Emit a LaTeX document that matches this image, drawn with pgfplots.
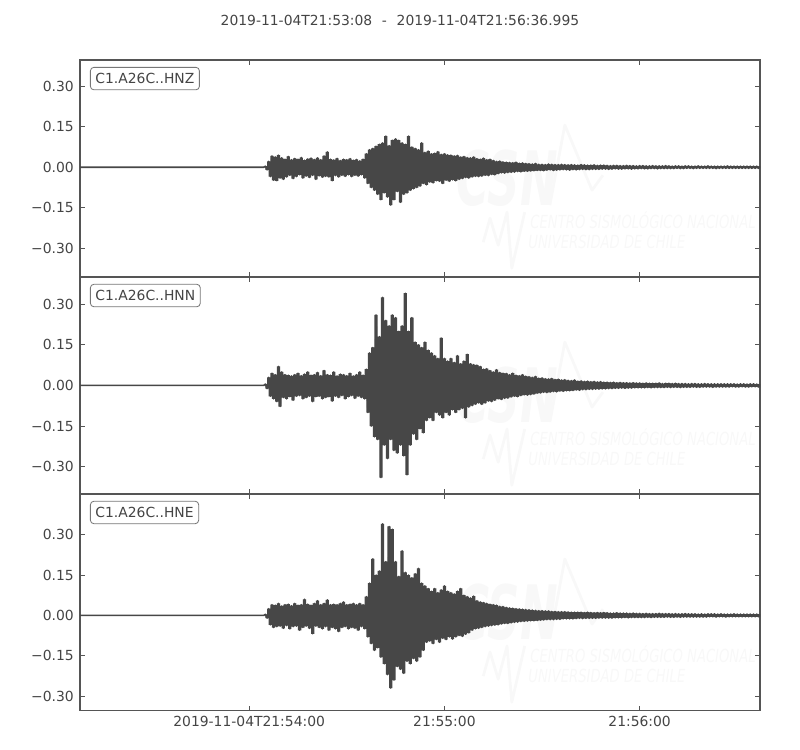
\documentclass[border=0pt]{standalone}
\usepackage{fontspec}
\setmainfont{DejaVu Sans}
\usepackage{pgfplots}
\usepackage{pgfplotstable}
\pgfplotsset{compat=1.18}

\definecolor{cTrace}{HTML}{474747}
\definecolor{cText}{HTML}{444444}
\definecolor{cFrame}{HTML}{555555}
\definecolor{cBox}{HTML}{777777}
\definecolor{cWm}{HTML}{F8F8F8}

\pgfplotsset{
  seis/.style={
    scale only axis, width=489.6pt, height=156.2pt, anchor=north west,
    xmin=0, xmax=208.995,
    xtick={52,112,172}, xticklabels={},
    ytick={-0.3,-0.15,0,0.15,0.3},
    yticklabels={−0.30,−0.15,0.00,0.15,0.30},
    scaled ticks=false,
    tick align=inside, major tick length=3.8pt,
    tick style={cFrame, line width=0.6pt},
    axis line style={cFrame, line width=0.9pt},
    tick label style={font=\fontsize{10}{12}\selectfont, text=cText},
    yticklabel style={xshift=-1pt},
  },
  trace/.style={cTrace, line width=1.1pt, line join=round},
}
\tikzset{
  lbl/.style={anchor=north west, draw=cBox, fill=white, rounded corners=2.5pt,
    inner xsep=3.6pt, inner ysep=4.3pt, line width=0.6pt, text=cText,
    font=\fontsize{10}{12}\selectfont},
  wmbig/.style={text=cWm, inner sep=0pt, font=\fontsize{54}{54}\selectfont\bfseries\itshape},
  wmsmall/.style={text=cWm, anchor=base west, inner sep=0pt, font=\fontsize{13}{13}\selectfont\itshape},
  wmline/.style={cWm, line width=2pt, line join=round},
}
% faint CSN watermark, same place in every panel
\newcommand{\watermark}{%
  \node[wmbig] at (rel axis cs:0.628,0.455) {\scalebox{0.6}[1]{CSN}};
  \draw[wmline] (rel axis cs:0.691,0.331) -- (rel axis cs:0.713,0.700)
    -- (rel axis cs:0.753,0.400) -- (rel axis cs:0.769,0.469);
  \draw[wmline] (rel axis cs:0.593,0.160) -- (rel axis cs:0.603,0.271)
    -- (rel axis cs:0.615,0.146) -- (rel axis cs:0.628,0.299)
    -- (rel axis cs:0.635,0.040) -- (rel axis cs:0.654,0.299);
  \node[wmsmall] at (rel axis cs:0.662,0.224) {\scalebox{0.73}[1]{CENTRO SISMOLÓGICO NACIONAL}};
  \node[wmsmall] at (rel axis cs:0.659,0.132) {\scalebox{0.73}[1]{UNIVERSIDAD DE CHILE}};
}

% traces sampled every 0.5 s, t in s after 21:53:08
\pgfplotstableread[row sep=\\]{
t y\\
0 0\\ 56.5 0\\
57 0.004\\ 57.5 -0.01\\ 58 0.022\\ 58.5 -0.035\\ 59 0.042\\ 59.5 -0.048\\ 60 0.038\\ 60.5 -0.05\\ 61 0.045\\
61.5 -0.04\\ 62 0.035\\ 62.5 -0.045\\ 63 0.03\\ 63.5 -0.036\\ 64 0.04\\ 64.5 -0.03\\ 65 0.028\\ 65.5 -0.042\\ 66 0.033\\
66.5 -0.035\\ 67 0.03\\ 67.5 -0.028\\ 68 0.036\\ 68.5 -0.04\\ 69 0.026\\ 69.5 -0.033\\ 70 0.031\\ 70.5 -0.038\\ 71 0.034\\
71.5 -0.03\\ 72 0.029\\ 72.5 -0.045\\ 73 0.035\\ 73.5 -0.032\\ 74 0.028\\ 74.5 -0.037\\ 75 0.042\\ 75.5 -0.034\\ 76 0.057\\
76.5 -0.036\\ 77 0.03\\ 77.5 -0.05\\ 78 0.027\\ 78.5 -0.031\\ 79 0.033\\ 79.5 -0.036\\ 80 0.025\\ 80.5 -0.03\\ 81 0.03\\
81.5 -0.034\\ 82 0.028\\ 82.5 -0.028\\ 83 0.032\\ 83.5 -0.035\\ 84 0.026\\ 84.5 -0.03\\ 85 0.029\\ 85.5 -0.033\\ 86 0.024\\
86.5 -0.028\\ 87 0.03\\ 87.5 -0.04\\ 88 0.05\\ 88.5 -0.06\\ 89 0.065\\ 89.5 -0.075\\ 90 0.07\\ 90.5 -0.085\\ 91 0.078\\
91.5 -0.1\\ 92 0.085\\ 92.5 -0.12\\ 93 0.09\\ 93.5 -0.095\\ 94 0.115\\ 94.5 -0.11\\ 95 0.08\\ 95.5 -0.14\\ 96 0.1\\
96.5 -0.12\\ 97 0.105\\ 97.5 -0.09\\ 98 0.1\\ 98.5 -0.13\\ 99 0.09\\ 99.5 -0.1\\ 100 0.085\\ 100.5 -0.095\\ 101 0.115\\
101.5 -0.085\\ 102 0.075\\ 102.5 -0.08\\ 103 0.07\\ 103.5 -0.075\\ 104 0.065\\ 104.5 -0.07\\ 105 0.09\\ 105.5 -0.06\\ 106 0.055\\
106.5 -0.065\\ 107 0.06\\ 107.5 -0.055\\ 108 0.05\\ 108.5 -0.058\\ 109 0.052\\ 109.5 -0.05\\ 110 0.058\\ 110.5 -0.052\\ 111 0.048\\
111.5 -0.06\\ 112 0.05\\ 112.5 -0.048\\ 113 0.046\\ 113.5 -0.052\\ 114 0.045\\ 114.5 -0.047\\ 115 0.042\\ 115.5 -0.05\\ 116 0.044\\
116.5 -0.045\\ 117 0.038\\ 117.5 -0.042\\ 118 0.04\\ 118.5 -0.038\\ 119 0.036\\ 119.5 -0.04\\ 120 0.035\\ 120.5 -0.036\\ 121 0.038\\
121.5 -0.034\\ 122 0.032\\ 122.5 -0.035\\ 123 0.03\\ 123.5 -0.033\\ 124 0.034\\ 124.5 -0.03\\ 125 0.028\\ 125.5 -0.031\\ 126 0.03\\
126.5 -0.027\\ 127 0.025\\ 127.5 -0.028\\ 128 0.022\\ 128.5 -0.024\\ 129 0.023\\ 129.5 -0.021\\ 130 0.02\\ 130.5 -0.022\\ 131 0.019\\
131.5 -0.02\\ 132 0.018\\ 132.5 -0.019\\ 133 0.017\\ 133.5 -0.018\\ 134 0.019\\ 134.5 -0.016\\ 135 0.015\\ 135.5 -0.017\\ 136 0.016\\
136.5 -0.015\\ 137 0.014\\ 137.5 -0.015\\ 138 0.013\\ 138.5 -0.014\\ 139 0.012\\ 139.5 -0.013\\ 140 0.014\\ 140.5 -0.012\\ 141 0.011\\
141.5 -0.012\\ 142 0.011\\ 142.5 -0.013\\ 143 0.01\\ 143.5 -0.011\\ 144 0.012\\ 144.5 -0.01\\ 145 0.011\\ 145.5 -0.012\\ 146 0.01\\
146.5 -0.011\\ 147 0.01\\ 147.5 -0.01\\ 148 0.011\\ 148.5 -0.009\\ 149 0.01\\ 149.5 -0.01\\ 150 0.009\\ 150.5 -0.011\\ 151 0.01\\
151.5 -0.009\\ 152 0.009\\ 152.5 -0.01\\ 153 0.008\\ 153.5 -0.009\\ 154 0.01\\ 154.5 -0.008\\ 155 0.009\\ 155.5 -0.009\\ 156 0.008\\
156.5 -0.009\\ 157 0.008\\ 157.5 -0.008\\ 158 0.009\\ 158.5 -0.008\\ 159 0.007\\ 159.5 -0.008\\ 160 0.008\\ 160.5 -0.007\\ 161 0.008\\
161.5 -0.007\\ 162 0.007\\ 162.5 -0.008\\ 163 0.006\\ 163.5 -0.007\\ 164 0.007\\ 164.5 -0.006\\ 165 0.007\\ 165.5 -0.007\\ 166 0.006\\
166.5 -0.007\\ 167 0.006\\ 167.5 -0.006\\ 168 0.007\\ 168.5 -0.006\\ 169 0.006\\ 169.5 -0.007\\ 170 0.006\\ 170.5 -0.006\\ 171 0.005\\
171.5 -0.006\\ 172 0.006\\ 172.5 -0.005\\ 173 0.006\\ 173.5 -0.006\\ 174 0.005\\ 174.5 -0.006\\ 175 0.005\\ 175.5 -0.005\\ 176 0.006\\
176.5 -0.005\\ 177 0.005\\ 177.5 -0.006\\ 178 0.005\\ 178.5 -0.005\\ 179 0.005\\ 179.5 -0.005\\ 180 0.006\\ 180.5 -0.005\\ 181 0.005\\
181.5 -0.005\\ 182 0.004\\ 182.5 -0.005\\ 183 0.005\\ 183.5 -0.004\\ 184 0.005\\ 184.5 -0.005\\ 185 0.004\\ 185.5 -0.005\\ 186 0.005\\
186.5 -0.004\\ 187 0.005\\ 187.5 -0.004\\ 188 0.004\\ 188.5 -0.005\\ 189 0.004\\ 189.5 -0.004\\ 190 0.005\\ 190.5 -0.004\\ 191 0.004\\
191.5 -0.004\\ 192 0.004\\ 192.5 -0.004\\ 193 0.005\\ 193.5 -0.004\\ 194 0.004\\ 194.5 -0.004\\ 195 0.004\\ 195.5 -0.005\\ 196 0.004\\
196.5 -0.004\\ 197 0.004\\ 197.5 -0.004\\ 198 0.004\\ 198.5 -0.004\\ 199 0.005\\ 199.5 -0.004\\ 200 0.004\\ 200.5 -0.004\\ 201 0.004\\
201.5 -0.004\\ 202 0.004\\ 202.5 -0.004\\ 203 0.004\\ 203.5 -0.004\\ 204 0.004\\ 204.5 -0.004\\ 205 0.004\\ 205.5 -0.004\\ 206 0.004\\
206.5 -0.004\\ 207 0.004\\ 207.5 -0.004\\ 208 0.004\\ 208.5 -0.004\\ 208.9 0.003\\
}\hnz

\pgfplotstableread[row sep=\\]{
t y\\
0 0\\ 56.5 0\\
57 0.005\\ 57.5 -0.012\\ 58 0.03\\ 58.5 -0.04\\ 59 0.045\\ 59.5 -0.05\\ 60 0.04\\ 60.5 -0.06\\ 61 0.07\\
61.5 -0.078\\ 62 0.05\\ 62.5 -0.045\\ 63 0.04\\ 63.5 -0.05\\ 64 0.038\\ 64.5 -0.042\\ 65 0.035\\ 65.5 -0.055\\ 66 0.04\\
66.5 -0.04\\ 67 0.045\\ 67.5 -0.038\\ 68 0.036\\ 68.5 -0.05\\ 69 0.042\\ 69.5 -0.045\\ 70 0.05\\ 70.5 -0.04\\ 71 0.038\\
71.5 -0.06\\ 72 0.04\\ 72.5 -0.042\\ 73 0.048\\ 73.5 -0.04\\ 74 0.036\\ 74.5 -0.05\\ 75 0.055\\ 75.5 -0.045\\ 76 0.04\\
76.5 -0.042\\ 77 0.038\\ 77.5 -0.058\\ 78 0.05\\ 78.5 -0.04\\ 79 0.035\\ 79.5 -0.045\\ 80 0.042\\ 80.5 -0.038\\ 81 0.04\\
81.5 -0.05\\ 82 0.036\\ 82.5 -0.042\\ 83 0.045\\ 83.5 -0.038\\ 84 0.035\\ 84.5 -0.048\\ 85 0.04\\ 85.5 -0.04\\ 86 0.05\\
86.5 -0.045\\ 87 0.038\\ 87.5 -0.05\\ 88 0.06\\ 88.5 -0.1\\ 89 0.12\\ 89.5 -0.15\\ 90 0.14\\ 90.5 -0.19\\ 91 0.26\\
91.5 -0.2\\ 92 0.18\\ 92.5 -0.34\\ 93 0.325\\ 93.5 -0.22\\ 94 0.24\\ 94.5 -0.27\\ 95 0.22\\ 95.5 -0.2\\ 96 0.26\\
96.5 -0.24\\ 97 0.25\\ 97.5 -0.25\\ 98 0.2\\ 98.5 -0.22\\ 99 0.22\\ 99.5 -0.26\\ 100 0.34\\ 100.5 -0.33\\ 101 0.2\\
101.5 -0.22\\ 102 0.25\\ 102.5 -0.18\\ 103 0.16\\ 103.5 -0.2\\ 104 0.15\\ 104.5 -0.16\\ 105 0.14\\ 105.5 -0.175\\ 106 0.16\\
106.5 -0.13\\ 107 0.13\\ 107.5 -0.12\\ 108 0.12\\ 108.5 -0.13\\ 109 0.11\\ 109.5 -0.1\\ 110 0.1\\ 110.5 -0.11\\ 111 0.175\\
111.5 -0.12\\ 112 0.1\\ 112.5 -0.1\\ 113 0.09\\ 113.5 -0.11\\ 114 0.1\\ 114.5 -0.09\\ 115 0.085\\ 115.5 -0.1\\ 116 0.11\\
116.5 -0.09\\ 117 0.08\\ 117.5 -0.085\\ 118 0.09\\ 118.5 -0.12\\ 119 0.115\\ 119.5 -0.08\\ 120 0.08\\ 120.5 -0.075\\ 121 0.077\\
121.5 -0.07\\ 122 0.075\\ 122.5 -0.065\\ 123 0.07\\ 123.5 -0.07\\ 124 0.06\\ 124.5 -0.065\\ 125 0.062\\ 125.5 -0.058\\ 126 0.055\\
126.5 -0.06\\ 127 0.05\\ 127.5 -0.055\\ 128 0.058\\ 128.5 -0.05\\ 129 0.048\\ 129.5 -0.052\\ 130 0.045\\ 130.5 -0.048\\ 131 0.044\\
131.5 -0.047\\ 132 0.04\\ 132.5 -0.043\\ 133 0.045\\ 133.5 -0.04\\ 134 0.038\\ 134.5 -0.042\\ 135 0.036\\ 135.5 -0.038\\ 136 0.04\\
136.5 -0.035\\ 137 0.034\\ 137.5 -0.036\\ 138 0.032\\ 138.5 -0.034\\ 139 0.03\\ 139.5 -0.032\\ 140 0.033\\ 140.5 -0.029\\ 141 0.027\\
141.5 -0.028\\ 142 0.028\\ 142.5 -0.026\\ 143 0.025\\ 143.5 -0.027\\ 144 0.024\\ 144.5 -0.025\\ 145 0.026\\ 145.5 -0.023\\ 146 0.022\\
146.5 -0.024\\ 147 0.023\\ 147.5 -0.021\\ 148 0.02\\ 148.5 -0.022\\ 149 0.021\\ 149.5 -0.02\\ 150 0.019\\ 150.5 -0.02\\ 151 0.018\\
151.5 -0.019\\ 152 0.02\\ 152.5 -0.017\\ 153 0.016\\ 153.5 -0.018\\ 154 0.017\\ 154.5 -0.016\\ 155 0.015\\ 155.5 -0.016\\ 156 0.016\\
156.5 -0.015\\ 157 0.014\\ 157.5 -0.015\\ 158 0.015\\ 158.5 -0.014\\ 159 0.013\\ 159.5 -0.014\\ 160 0.014\\ 160.5 -0.013\\ 161 0.012\\
161.5 -0.013\\ 162 0.012\\ 162.5 -0.012\\ 163 0.011\\ 163.5 -0.012\\ 164 0.012\\ 164.5 -0.011\\ 165 0.01\\ 165.5 -0.011\\ 166 0.011\\
166.5 -0.01\\ 167 0.01\\ 167.5 -0.011\\ 168 0.01\\ 168.5 -0.01\\ 169 0.009\\ 169.5 -0.01\\ 170 0.01\\ 170.5 -0.009\\ 171 0.009\\
171.5 -0.009\\ 172 0.009\\ 172.5 -0.009\\ 173 0.008\\ 173.5 -0.009\\ 174 0.009\\ 174.5 -0.008\\ 175 0.008\\ 175.5 -0.009\\ 176 0.008\\
176.5 -0.008\\ 177 0.008\\ 177.5 -0.008\\ 178 0.009\\ 178.5 -0.008\\ 179 0.007\\ 179.5 -0.008\\ 180 0.008\\ 180.5 -0.007\\ 181 0.008\\
181.5 -0.008\\ 182 0.007\\ 182.5 -0.007\\ 183 0.008\\ 183.5 -0.007\\ 184 0.007\\ 184.5 -0.008\\ 185 0.007\\ 185.5 -0.007\\ 186 0.007\\
186.5 -0.007\\ 187 0.006\\ 187.5 -0.007\\ 188 0.007\\ 188.5 -0.006\\ 189 0.007\\ 189.5 -0.007\\ 190 0.006\\ 190.5 -0.007\\ 191 0.006\\
191.5 -0.006\\ 192 0.007\\ 192.5 -0.006\\ 193 0.006\\ 193.5 -0.006\\ 194 0.006\\ 194.5 -0.007\\ 195 0.006\\ 195.5 -0.006\\ 196 0.006\\
196.5 -0.006\\ 197 0.006\\ 197.5 -0.006\\ 198 0.006\\ 198.5 -0.006\\ 199 0.006\\ 199.5 -0.006\\ 200 0.006\\ 200.5 -0.005\\ 201 0.006\\
201.5 -0.006\\ 202 0.005\\ 202.5 -0.006\\ 203 0.006\\ 203.5 -0.005\\ 204 0.006\\ 204.5 -0.006\\ 205 0.005\\ 205.5 -0.006\\ 206 0.006\\
206.5 -0.005\\ 207 0.006\\ 207.5 -0.005\\ 208 0.005\\ 208.5 -0.006\\ 208.9 0.005\\
}\hnn

\pgfplotstableread[row sep=\\]{
t y\\
0 0\\ 56.5 0\\
57 0.004\\ 57.5 -0.01\\ 58 0.025\\ 58.5 -0.035\\ 59 0.04\\ 59.5 -0.045\\ 60 0.038\\ 60.5 -0.042\\ 61 0.045\\
61.5 -0.04\\ 62 0.035\\ 62.5 -0.048\\ 63 0.04\\ 63.5 -0.038\\ 64 0.042\\ 64.5 -0.05\\ 65 0.036\\ 65.5 -0.042\\ 66 0.045\\
66.5 -0.04\\ 67 0.038\\ 67.5 -0.055\\ 68 0.04\\ 68.5 -0.045\\ 69 0.06\\ 69.5 -0.04\\ 70 0.042\\ 70.5 -0.048\\ 71 0.038\\
71.5 -0.068\\ 72 0.045\\ 72.5 -0.04\\ 73 0.055\\ 73.5 -0.045\\ 74 0.04\\ 74.5 -0.05\\ 75 0.045\\ 75.5 -0.042\\ 76 0.058\\
76.5 -0.055\\ 77 0.04\\ 77.5 -0.045\\ 78 0.042\\ 78.5 -0.05\\ 79 0.04\\ 79.5 -0.06\\ 80 0.045\\ 80.5 -0.045\\ 81 0.05\\
81.5 -0.042\\ 82 0.04\\ 82.5 -0.05\\ 83 0.042\\ 83.5 -0.045\\ 84 0.045\\ 84.5 -0.048\\ 85 0.04\\ 85.5 -0.055\\ 86 0.045\\
86.5 -0.042\\ 87 0.04\\ 87.5 -0.05\\ 88 0.07\\ 88.5 -0.08\\ 89 0.12\\ 89.5 -0.105\\ 90 0.21\\ 90.5 -0.13\\ 91 0.15\\
91.5 -0.12\\ 92 0.165\\ 92.5 -0.155\\ 93 0.34\\ 93.5 -0.18\\ 94 0.2\\ 94.5 -0.22\\ 95 0.33\\ 95.5 -0.27\\ 96 0.32\\
96.5 -0.24\\ 97 0.2\\ 97.5 -0.19\\ 98 0.145\\ 98.5 -0.2\\ 99 0.24\\ 99.5 -0.215\\ 100 0.16\\ 100.5 -0.17\\ 101 0.15\\
101.5 -0.18\\ 102 0.14\\ 102.5 -0.16\\ 103 0.155\\ 103.5 -0.17\\ 104 0.175\\ 104.5 -0.155\\ 105 0.12\\ 105.5 -0.13\\ 106 0.11\\
106.5 -0.1\\ 107 0.1\\ 107.5 -0.095\\ 108 0.09\\ 108.5 -0.105\\ 109 0.1\\ 109.5 -0.09\\ 110 0.085\\ 110.5 -0.1\\ 111 0.095\\
111.5 -0.085\\ 112 0.11\\ 112.5 -0.09\\ 113 0.09\\ 113.5 -0.08\\ 114 0.085\\ 114.5 -0.088\\ 115 0.08\\ 115.5 -0.08\\ 116 0.09\\
116.5 -0.075\\ 117 0.1\\ 117.5 -0.078\\ 118 0.075\\ 118.5 -0.07\\ 119 0.07\\ 119.5 -0.065\\ 120 0.065\\ 120.5 -0.055\\ 121 0.072\\
121.5 -0.05\\ 122 0.055\\ 122.5 -0.048\\ 123 0.05\\ 123.5 -0.045\\ 124 0.048\\ 124.5 -0.042\\ 125 0.045\\ 125.5 -0.04\\ 126 0.042\\
126.5 -0.038\\ 127 0.04\\ 127.5 -0.036\\ 128 0.038\\ 128.5 -0.035\\ 129 0.034\\ 129.5 -0.032\\ 130 0.033\\ 130.5 -0.03\\ 131 0.03\\
131.5 -0.03\\ 132 0.028\\ 132.5 -0.028\\ 133 0.027\\ 133.5 -0.026\\ 134 0.025\\ 134.5 -0.025\\ 135 0.024\\ 135.5 -0.023\\ 136 0.023\\
136.5 -0.022\\ 137 0.022\\ 137.5 -0.021\\ 138 0.021\\ 138.5 -0.02\\ 139 0.02\\ 139.5 -0.02\\ 140 0.019\\ 140.5 -0.019\\ 141 0.018\\
141.5 -0.018\\ 142 0.018\\ 142.5 -0.017\\ 143 0.017\\ 143.5 -0.016\\ 144 0.017\\ 144.5 -0.016\\ 145 0.015\\ 145.5 -0.016\\ 146 0.015\\
146.5 -0.015\\ 147 0.014\\ 147.5 -0.015\\ 148 0.014\\ 148.5 -0.013\\ 149 0.014\\ 149.5 -0.013\\ 150 0.013\\ 150.5 -0.013\\ 151 0.012\\
151.5 -0.013\\ 152 0.012\\ 152.5 -0.012\\ 153 0.012\\ 153.5 -0.011\\ 154 0.012\\ 154.5 -0.012\\ 155 0.011\\ 155.5 -0.011\\ 156 0.012\\
156.5 -0.011\\ 157 0.011\\ 157.5 -0.011\\ 158 0.01\\ 158.5 -0.011\\ 159 0.011\\ 159.5 -0.01\\ 160 0.01\\ 160.5 -0.01\\ 161 0.011\\
161.5 -0.01\\ 162 0.01\\ 162.5 -0.01\\ 163 0.009\\ 163.5 -0.01\\ 164 0.009\\ 164.5 -0.009\\ 165 0.01\\ 165.5 -0.009\\ 166 0.009\\
166.5 -0.009\\ 167 0.009\\ 167.5 -0.008\\ 168 0.009\\ 168.5 -0.009\\ 169 0.008\\ 169.5 -0.008\\ 170 0.009\\ 170.5 -0.008\\ 171 0.008\\
171.5 -0.008\\ 172 0.008\\ 172.5 -0.008\\ 173 0.007\\ 173.5 -0.008\\ 174 0.008\\ 174.5 -0.007\\ 175 0.007\\ 175.5 -0.008\\ 176 0.007\\
176.5 -0.007\\ 177 0.007\\ 177.5 -0.007\\ 178 0.008\\ 178.5 -0.007\\ 179 0.007\\ 179.5 -0.007\\ 180 0.007\\ 180.5 -0.006\\ 181 0.007\\
181.5 -0.007\\ 182 0.006\\ 182.5 -0.007\\ 183 0.007\\ 183.5 -0.006\\ 184 0.006\\ 184.5 -0.007\\ 185 0.006\\ 185.5 -0.006\\ 186 0.007\\
186.5 -0.006\\ 187 0.006\\ 187.5 -0.006\\ 188 0.006\\ 188.5 -0.006\\ 189 0.006\\ 189.5 -0.006\\ 190 0.005\\ 190.5 -0.006\\ 191 0.006\\
191.5 -0.006\\ 192 0.005\\ 192.5 -0.006\\ 193 0.006\\ 193.5 -0.005\\ 194 0.006\\ 194.5 -0.005\\ 195 0.006\\ 195.5 -0.006\\ 196 0.005\\
196.5 -0.005\\ 197 0.006\\ 197.5 -0.005\\ 198 0.005\\ 198.5 -0.006\\ 199 0.005\\ 199.5 -0.005\\ 200 0.005\\ 200.5 -0.005\\ 201 0.006\\
201.5 -0.005\\ 202 0.005\\ 202.5 -0.005\\ 203 0.005\\ 203.5 -0.005\\ 204 0.005\\ 204.5 -0.005\\ 205 0.005\\ 205.5 -0.005\\ 206 0.005\\
206.5 -0.005\\ 207 0.005\\ 207.5 -0.005\\ 208 0.005\\ 208.5 -0.005\\ 208.9 0.005\\
}\hne

% each sample as a bar from zero (fills the band), then the trace on top
\newcommand{\seisplot}[1]{%
  \addplot[ybar, bar width=1, bar shift=0pt, draw=none, fill=cTrace, forget plot]
    table[x=t, y=y] {#1};
  \addplot[trace] table[x=t, y=y] {#1};
}

\begin{document}
\begin{tikzpicture}
\path[use as bounding box] (0,0) rectangle (576pt,-540pt);

\node[text=cText, font=\fontsize{10}{12}\selectfont] at (288pt,-14.4pt)
  {2019-11-04T21:53:08\hspace{0.7em}-\hspace{0.7em}2019-11-04T21:56:36.995};

\begin{axis}[seis, at={(57.6pt,-43.2pt)}, ymin=-0.405, ymax=0.396]
\watermark
\seisplot{\hnz}
\node[lbl] at (rel axis cs:0.0147,0.968) {C1.A26C..HNZ};
\end{axis}

\begin{axis}[seis, at={(57.6pt,-199.4pt)}, ymin=-0.40, ymax=0.40]
\watermark
\seisplot{\hnn}
\node[lbl] at (rel axis cs:0.0147,0.968) {C1.A26C..HNN};
\end{axis}

\begin{axis}[seis, at={(57.6pt,-355.6pt)}, ymin=-0.354, ymax=0.451,
  xticklabels={2019-11-04T21:54:00, 21:55:00, 21:56:00}]
\watermark
\seisplot{\hne}
\node[lbl] at (rel axis cs:0.0147,0.968) {C1.A26C..HNE};
\end{axis}
\end{tikzpicture}
\end{document}
